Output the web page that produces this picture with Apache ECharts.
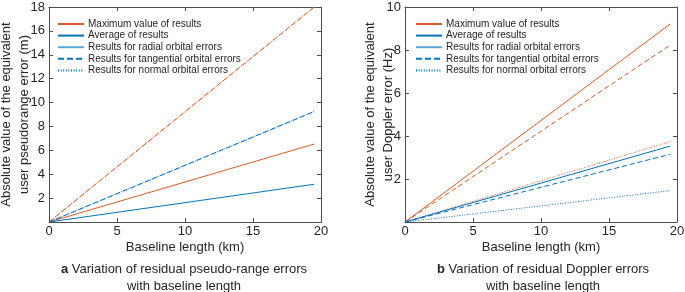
<!DOCTYPE html>
<html><head><meta charset="utf-8">
<script src="https://cdn.jsdelivr.net/npm/echarts@6/dist/echarts.min.js"></script>
<style>html,body{margin:0;padding:0;background:#fff}#c{width:685px;height:292px}</style>
</head><body><div id="c"></div>
<script>
// ---- data ----
const baselineKm = [0, 19.5];
// panel a: pseudo-range (m)
const aMaxRadial = [0, 6.53];
const aMaxTangential = [0, 18.0];
const aMaxNormal = [0, 18.0];
const aAvgRadial = [0, 3.16];
const aAvgTangential = [0, 9.25];
const aAvgNormal = [0, 9.25];
// panel b: Doppler (Hz)
const bMaxRadial = [0, 9.21];
const bMaxTangential = [0, 8.23];
const bMaxNormal = [0, 3.74];
const bAvgRadial = [0, 3.53];
const bAvgTangential = [0, 3.15];
const bAvgNormal = [0, 1.46];
const xTicks = [0, 5, 10, 15, 20];
const legendNames = ['Maximum value of results', 'Average of results', 'Results for radial orbital errors', 'Results for tangential orbital errors', 'Results for normal orbital errors'];
const yTitleA = 'Absolute value of the equivalent\nuser pseudorange error (m)';
const yTitleB = 'Absolute value of the equivalent\nuser Doppler error (Hz)';
const xTitle = 'Baseline length (km)';
const captionA = ['Variation of residual pseudo-range errors', 'with baseline length'];
const captionB = ['Variation of residual Doppler errors', 'with baseline length'];

const FONT = '"Liberation Sans", Arial, Helvetica, sans-serif';
const TXT = '#262626';
const AX = '#4d4d4d';
const ORANGE = '#DD5A22';
const BLUE = '#0072BD';
const DASH = [5, 3];
const DOT = [1, 1.6];

function pts(ys) { return ys.map((y, i) => [baselineKm[i], y]); }

function mkAxes(gi, ymax, yint, yname, ygap) {
  const common = {
    gridIndex: gi, type: 'value', splitLine: { show: false },
    axisLine: { show: true, onZero: false, lineStyle: { color: AX, width: 1 } },
    axisTick: { show: true, inside: true, length: 4, lineStyle: { color: AX } }
  };
  const xs = [
    Object.assign({}, common, { min: 0, max: 20, interval: 5, position: 'bottom',
      axisLabel: { color: TXT, fontSize: 13, fontFamily: FONT, margin: 3 },
      name: xTitle, nameLocation: 'middle', nameGap: 19, nameMoveOverlap: false,
      nameTextStyle: { color: TXT, fontSize: 13, fontFamily: FONT } }),
    Object.assign({}, common, { min: 0, max: 20, interval: 5, position: 'top', axisLabel: { show: false } })
  ];
  const ys = [
    Object.assign({}, common, { min: 0, max: ymax, interval: yint, position: 'left',
      axisLabel: { color: TXT, fontSize: 13, fontFamily: FONT, margin: 4, formatter: v => v === 0 ? '' : String(v) },
      name: yname, nameLocation: 'middle', nameGap: ygap, nameRotate: 90, nameMoveOverlap: false,
      nameTextStyle: { color: TXT, fontSize: 13, fontFamily: FONT, lineHeight: 18 } }),
    Object.assign({}, common, { min: 0, max: ymax, interval: yint, position: 'right', axisLabel: { show: false } })
  ];
  return { xs, ys };
}

const axA = mkAxes(0, 18, 2, yTitleA, 16);
const axB = mkAxes(1, 10, 2, yTitleB, 8);

function line(name, ys, color, type, xi, yi) {
  return { type: 'line', name: name, xAxisIndex: xi, yAxisIndex: yi, data: pts(ys), showSymbol: false, symbol: 'none',
    lineStyle: { color: color, width: 1, type: type }, itemStyle: { color: color }, silent: true, z: 3 };
}
function dummy(name, color, width, type) {
  return { type: 'line', name: name, data: [], symbol: 'none', xAxisIndex: 0, yAxisIndex: 0,
    lineStyle: { color: color, width: width, type: type }, itemStyle: { color: color } };
}

const series = [
  line('a1', aMaxRadial, ORANGE, 'solid', 0, 0),
  line('a2', aMaxTangential, ORANGE, DASH, 0, 0),
  line('a3', aMaxNormal, ORANGE, DOT, 0, 0),
  line('a4', aAvgRadial, BLUE, 'solid', 0, 0),
  line('a5', aAvgTangential, BLUE, DASH, 0, 0),
  line('a6', aAvgNormal, BLUE, DOT, 0, 0),
  line('b1', bMaxRadial, ORANGE, 'solid', 2, 2),
  line('b2', bMaxTangential, ORANGE, DASH, 2, 2),
  line('b3', bMaxNormal, ORANGE, DOT, 2, 2),
  line('b4', bAvgRadial, BLUE, 'solid', 2, 2),
  line('b5', bAvgTangential, BLUE, DASH, 2, 2),
  line('b6', bAvgNormal, BLUE, DOT, 2, 2),
  dummy(legendNames[0], ORANGE, 1, 'solid'),
  dummy(legendNames[1], BLUE, 1, 'solid'),
  dummy(legendNames[2], '#5aa6dd', 2.5, 'solid'),
  dummy(legendNames[3], BLUE, 1.5, [6, 3]),
  dummy(legendNames[4], BLUE, 1, DOT)
];

function legend(left) {
  return { data: legendNames, orient: 'vertical', left: left, top: 19, padding: 0, itemWidth: 26, itemHeight: 10, itemGap: 1.6,
    selectedMode: false, itemStyle: { opacity: 0 },
    textStyle: { color: TXT, fontSize: 10, fontFamily: FONT, padding: [0, 0, 0, -1] } };
}

function caption(cx, lines) {
  return { type: 'text', x: cx, y: 261, style: {
    text: '{b|' + (cx < 300 ? 'a' : 'b') + '} ' + lines[0] + '\n' + lines[1],
    align: 'center', verticalAlign: 'top', fill: TXT, font: '13px ' + FONT, lineHeight: 17,
    rich: { b: { fontWeight: 'bold', fontSize: 13, fontFamily: FONT, fill: TXT } } } };
}

const option = {
  animation: false,
  backgroundColor: '#fff',
  grid: [
    { left: 49, top: 7, width: 272, height: 215, outerBoundsMode: 'none', containLabel: false },
    { left: 405, top: 7, width: 272, height: 215, outerBoundsMode: 'none', containLabel: false }
  ],
  xAxis: axA.xs.concat(axB.xs),
  yAxis: axA.ys.concat(axB.ys),
  legend: [legend(57), legend(415)],
  series: series,
  graphic: [caption(184, captionA), caption(543, captionB)]
};
const chart = echarts.init(document.getElementById('c'), null, { renderer: 'canvas' });
chart.setOption(option);
</script></body></html>
